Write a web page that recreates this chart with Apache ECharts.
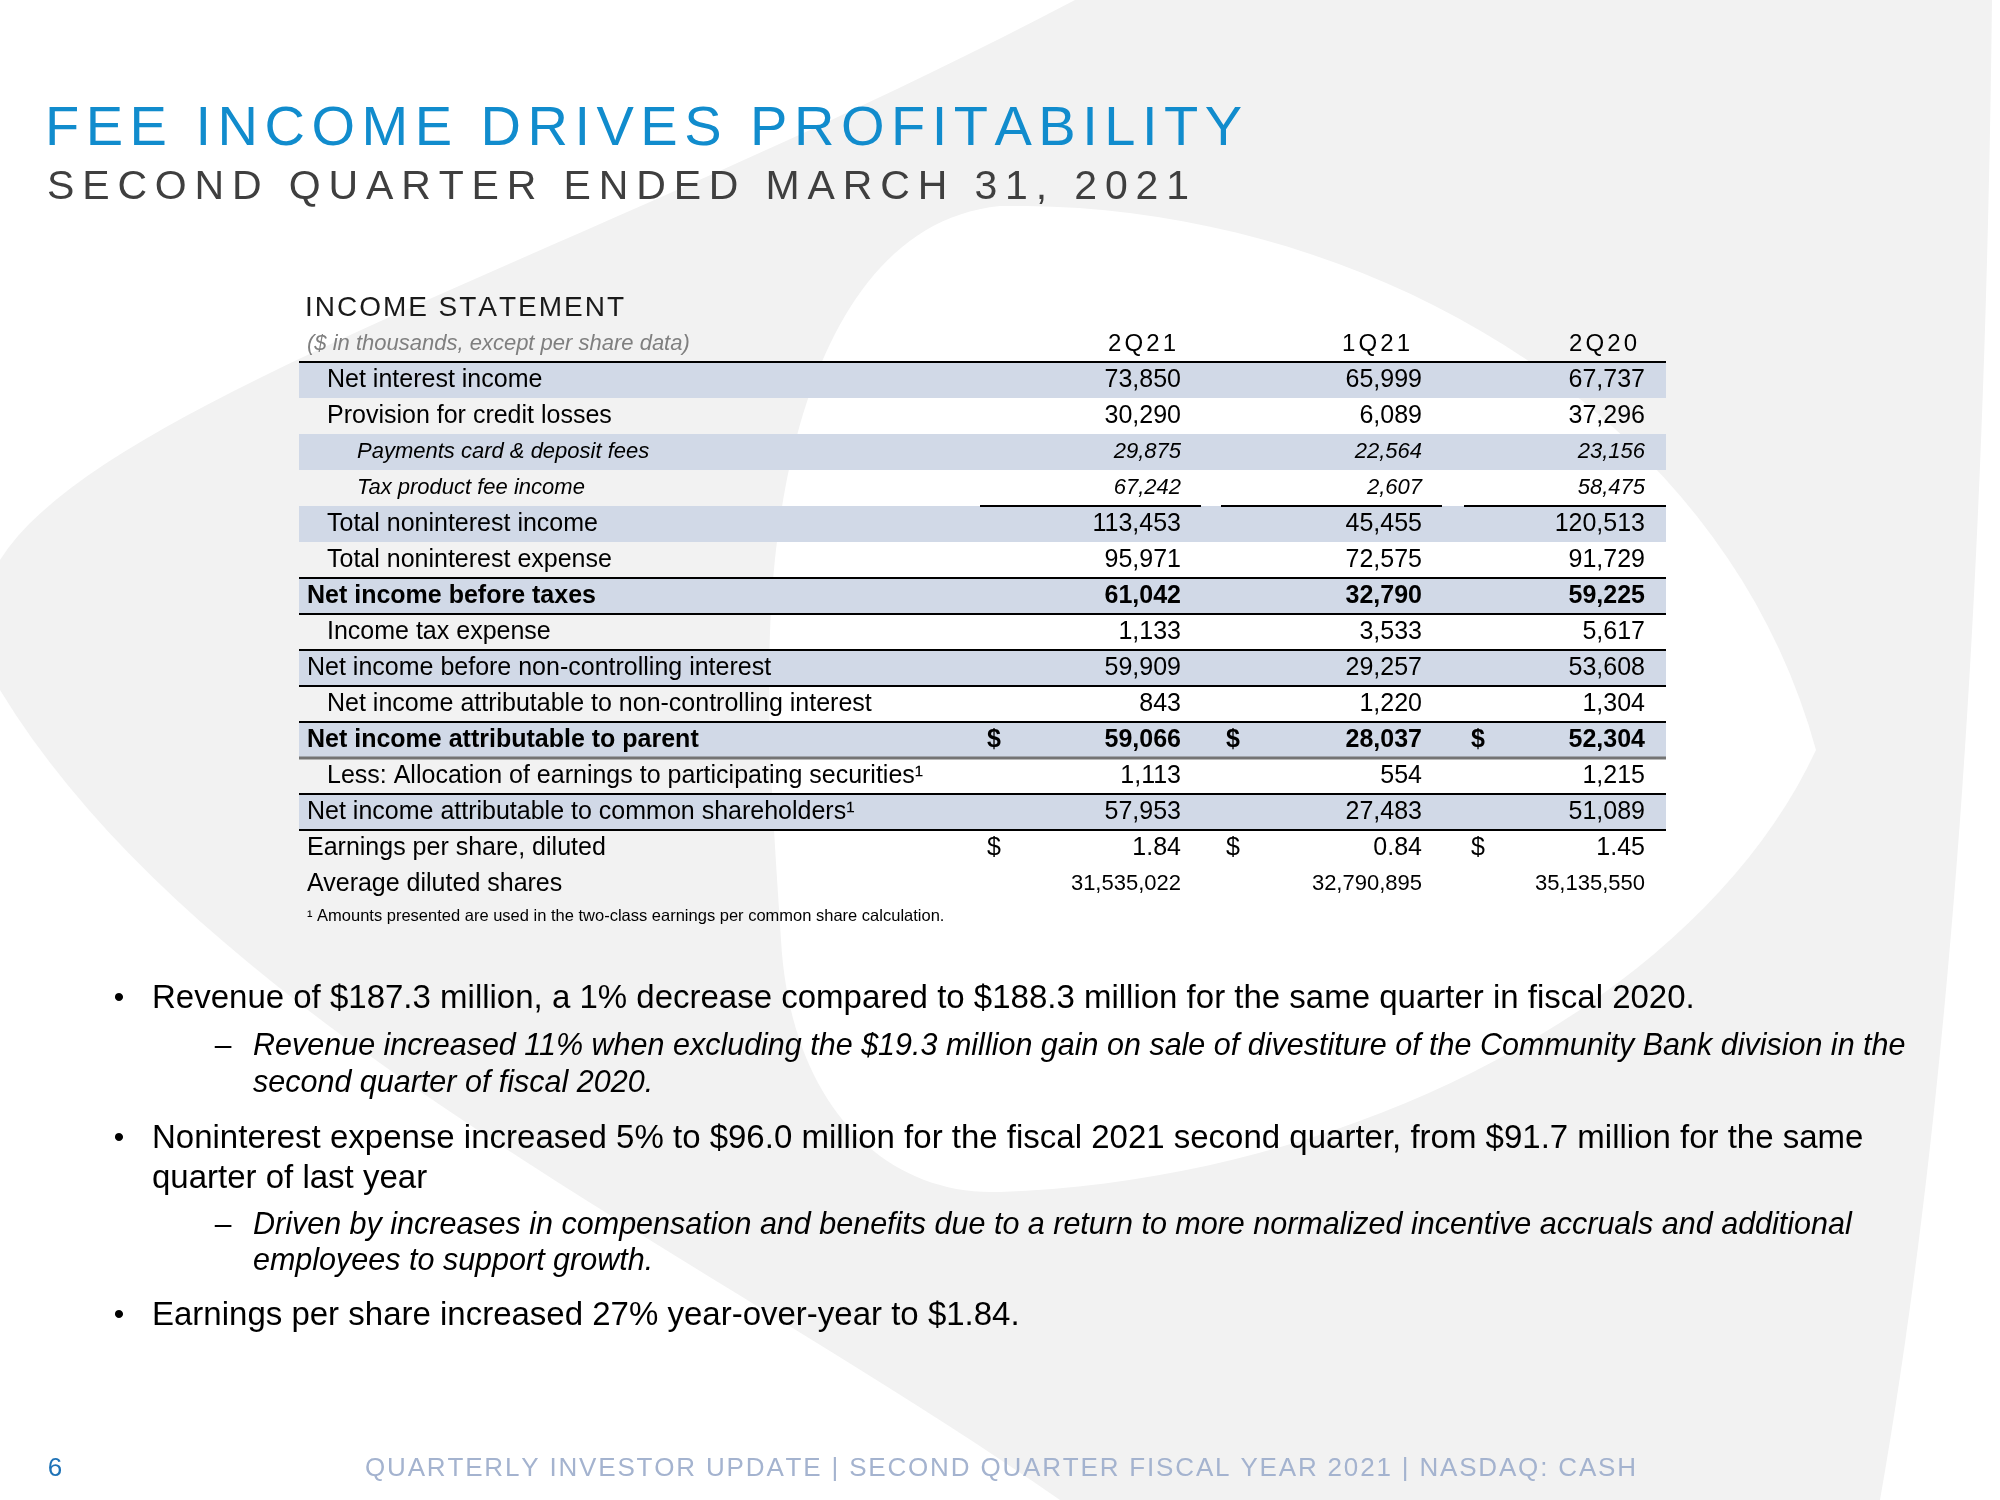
<!DOCTYPE html>
<html><head><meta charset="utf-8">
<script src="https://cdn.jsdelivr.net/npm/echarts@6/dist/echarts.min.js"></script>
<style>html,body{margin:0;padding:0;background:#fff}#c{width:2000px;height:1500px}</style>
</head><body><div id="c"></div>
<script>
// ---------------- DATA ----------------
const colHeaders = ['2Q21', '1Q21', '2Q20'];
const headerNote = '($ in thousands, except per share data)';
const rowLabels = [
  'Net interest income',
  'Provision for credit losses',
  'Payments card & deposit fees',
  'Tax product fee income',
  'Total noninterest income',
  'Total noninterest expense',
  'Net income before taxes',
  'Income tax expense',
  'Net income before non-controlling interest',
  'Net income attributable to non-controlling interest',
  'Net income attributable to parent',
  'Less: Allocation of earnings to participating securities\u00B9',
  'Net income attributable to common shareholders\u00B9',
  'Earnings per share, diluted',
  'Average diluted shares'
];
const values2Q21 = [73850, 30290, 29875, 67242, 113453, 95971, 61042, 1133, 59909, 843, 59066, 1113, 57953, 1.84, 31535022];
const values1Q21 = [65999, 6089, 22564, 2607, 45455, 72575, 32790, 3533, 29257, 1220, 28037, 554, 27483, 0.84, 32790895];
const values2Q20 = [67737, 37296, 23156, 58475, 120513, 91729, 59225, 5617, 53608, 1304, 52304, 1215, 51089, 1.45, 35135550];
const footnote = '\u00B9 Amounts presented are used in the two-class earnings per common share calculation.';
const titleText = 'FEE INCOME DRIVES PROFITABILITY';
const subtitleText = 'SECOND QUARTER ENDED MARCH 31, 2021';
const tableTitle = 'INCOME STATEMENT';
const bulletItems = [
  { level: 1, lines: ['Revenue of $187.3 million, a 1% decrease compared to $188.3 million for the same quarter in fiscal 2020.'] },
  { level: 2, lines: ['Revenue increased 11% when excluding the $19.3 million gain on sale of divestiture of the Community Bank division in the', 'second quarter of fiscal 2020.'] },
  { level: 1, lines: ['Noninterest expense increased 5% to $96.0 million for the fiscal 2021 second quarter, from $91.7 million for the same', 'quarter of last year'] },
  { level: 2, lines: ['Driven by increases in compensation and benefits due to a return to more normalized incentive accruals and additional', 'employees to support growth.'] },
  { level: 1, lines: ['Earnings per share increased 27% year-over-year to $1.84.'] }
];
const pageNumber = '6';
const footerText = 'QUARTERLY INVESTOR UPDATE | SECOND QUARTER FISCAL YEAR 2021 | NASDAQ: CASH';

// ---------------- STYLE (per row) ----------------
const rowIndent = [1, 1, 2, 2, 1, 1, 0, 1, 0, 1, 0, 1, 0, 0, 0];
const rowKind   = ['n','n','i','i','n','n','b','n','n','n','b','n','n','n','s'];
const rowBand   = [1, 0, 1, 0, 1, 0, 1, 0, 1, 0, 1, 0, 1, 0, 0];
const rowDollar = [0, 0, 0, 0, 0, 0, 0, 0, 0, 0, 1, 0, 0, 1, 0];
const rowLines = [
  { row: 0, edge: 'top', kind: 'full' },
  { row: 4, edge: 'top', kind: 'seg' },
  { row: 6, edge: 'top', kind: 'full' }, { row: 6, edge: 'bottom', kind: 'full' },
  { row: 8, edge: 'top', kind: 'full' }, { row: 8, edge: 'bottom', kind: 'full' },
  { row: 10, edge: 'top', kind: 'full' }, { row: 10, edge: 'bottom', kind: 'gray' },
  { row: 12, edge: 'top', kind: 'full' }, { row: 12, edge: 'bottom', kind: 'full' }
];

// ---------------- LAYOUT ----------------
const FONT = '"Liberation Sans", Arial, Helvetica, sans-serif';
const BAND = '#d1d9e7';
const TABLE_W = 1367;
const LABEL_X = [8, 28, 58];
const HEAD_X = [843, 1077, 1304];
const VAL_X = [882, 1123, 1346];
const DOLLAR_X = [695, 934, 1179];
const SEGS = [[681, 902], [922, 1143], [1165, 1367]];

const mctx = document.createElement('canvas').getContext('2d');
function fnt(size, weight, style) { return (style || 'normal') + ' ' + (weight || 'normal') + ' ' + size + 'px ' + FONT; }
function measure(chars, font) { mctx.font = font; return chars.map(c => mctx.measureText(c).width); }
function spacedGraphic(str, font, left, right, y, fill) {
  const chars = [...str];
  const w = measure(chars, font);
  const sum = w.reduce((a, b) => a + b, 0);
  const sp = (right - left - sum) / (chars.length - 1);
  let x = left; const out = [];
  chars.forEach((c, i) => {
    if (c !== ' ') out.push({ type: 'text', x: x, y: y, z: 100, silent: true,
      style: { text: c, font: font, fill: fill, textVerticalAlign: 'middle', verticalAlign: 'middle' } });
    x += w[i] + sp;
  });
  return out;
}
function spacedCustom(str, font, center, width, y, fill) {
  const chars = [...str];
  const w = measure(chars, font);
  const sum = w.reduce((a, b) => a + b, 0);
  const sp = (width - sum) / (chars.length - 1);
  let x = center - width / 2; const out = [];
  chars.forEach((c, i) => {
    out.push({ type: 'text', z2: 5, style: { text: c, x: x, y: y, font: font, fill: fill,
      textAlign: 'left', align: 'left', textVerticalAlign: 'middle', verticalAlign: 'middle' } });
    x += w[i] + sp;
  });
  return out;
}
function cText(text, x, y, font, fill, align) {
  return { type: 'text', z2: 5, style: { text: text, x: x, y: y, font: font, fill: fill,
    textAlign: align, align: align, textVerticalAlign: 'middle', verticalAlign: 'middle' } };
}
function fmt(v, i) { return i === 13 ? v.toFixed(2) : v.toLocaleString('en-US'); }

// sample a simple M/L/C path into polygon points
function pathPoints(d) {
  const tok = d.replace(/,/g, ' ').trim().split(/\s+|(?=[MLCZ])|(?<=[MLCZ])/).filter(s => s.length);
  const pts = []; let i = 0, cmd = '', cur = [0, 0];
  const num = () => parseFloat(tok[i++]);
  while (i < tok.length) {
    if (/^[MLCZ]$/.test(tok[i])) { cmd = tok[i++]; if (cmd === 'Z') continue; }
    if (cmd === 'M' || cmd === 'L') { cur = [num(), num()]; pts.push(cur); }
    else if (cmd === 'C') {
      const p1 = [num(), num()], p2 = [num(), num()], p3 = [num(), num()], p0 = cur;
      for (let s = 1; s <= 40; s++) {
        const t = s / 40, u = 1 - t;
        pts.push([u*u*u*p0[0] + 3*u*u*t*p1[0] + 3*u*t*t*p2[0] + t*t*t*p3[0],
                  u*u*u*p0[1] + 3*u*u*t*p1[1] + 3*u*t*t*p2[1] + t*t*t*p3[1]]);
      }
      cur = p3;
    } else i++;
  }
  return pts;
}

const yCats = ['header'].concat(rowLabels);
const columns = [values2Q21, values1Q21, values2Q20];

function renderItem(params, api) {
  const r = api.value(1);
  const cy = api.coord([0, r])[1];
  const h = api.size([0, 1])[1];
  const X = u => api.coord([u, r])[0];
  const top = cy - h / 2, bot = cy + h / 2;
  const kids = [];
  if (r === 0) {
    kids.push(cText(headerNote, X(LABEL_X[0]), cy, fnt(22, 'normal', 'italic'), '#7f7f7f', 'left'));
    colHeaders.forEach((hd, k) => {
      spacedCustom(hd, fnt(24), X(HEAD_X[k]), 68, cy, '#000').forEach(e => kids.push(e));
    });
    return { type: 'group', children: kids };
  }
  const i = r - 1;
  if (rowBand[i]) {
    kids.push({ type: 'rect', z2: 0, shape: { x: X(0), y: top, width: X(TABLE_W) - X(0), height: h }, style: { fill: BAND } });
  }
  const kind = rowKind[i];
  const labelFont = kind === 'b' ? fnt(25, 'bold') : kind === 'i' ? fnt(22, 'normal', 'italic') : fnt(25);
  const valFont = kind === 'b' ? fnt(25, 'bold') : kind === 'i' ? fnt(22, 'normal', 'italic') : kind === 's' ? fnt(22) : fnt(25);
  kids.push(cText(rowLabels[i], X(LABEL_X[rowIndent[i]]), cy, labelFont, '#000', 'left'));
  columns.forEach((col, k) => {
    kids.push(cText(fmt(col[i], i), X(VAL_X[k]), cy, valFont, '#000', 'right'));
    if (rowDollar[i]) kids.push(cText('$', X(DOLLAR_X[k]), cy, kind === 'b' ? fnt(25, 'bold') : fnt(25), '#000', 'center'));
  });
  rowLines.filter(l => l.row === i).forEach(l => {
    const y = l.edge === 'top' ? top : bot;
    if (l.kind === 'seg') {
      SEGS.forEach(s => kids.push({ type: 'line', z2: 10, shape: { x1: X(s[0]), y1: y, x2: X(s[1]), y2: y }, style: { stroke: '#000', lineWidth: 2 } }));
    } else {
      const gray = l.kind === 'gray';
      kids.push({ type: 'line', z2: 10, shape: { x1: X(0), y1: y, x2: X(TABLE_W), y2: y },
        style: { stroke: gray ? '#747474' : '#000', lineWidth: gray ? 3 : 2 } });
    }
  });
  return { type: 'group', children: kids };
}

// ---------------- SLIDE DECORATION / TEXT ----------------
const graphics = [];
graphics.push({ type: 'polygon', z: -10, silent: true,
  shape: { points: pathPoints('M1075,0 L1992,0 C1985,600 1950,1100 1880,1500 L1060,1500 C700,1250 200,1020 0,690 L0,560 C100,400 600,250 1075,0 Z') },
  style: { fill: '#f2f2f2' } });
graphics.push({ type: 'polygon', z: -9, silent: true,
  shape: { points: pathPoints('M1000,206 C1350,200 1720,400 1816,750 C1700,1000 1350,1180 1000,1192 C880,1196 790,1100 781,940 C772,800 760,650 780,520 C800,380 860,220 1000,206 Z') },
  style: { fill: '#ffffff' } });

spacedGraphic(titleText, fnt(56), 45, 1242, 130, '#118ccd').forEach(e => graphics.push(e));
spacedGraphic(subtitleText, fnt(41), 47, 1189, 188, '#3f3f3f').forEach(e => graphics.push(e));
spacedGraphic(tableTitle, fnt(28), 305, 624, 308, '#1a1a1a').forEach(e => graphics.push(e));

graphics.push({ type: 'text', x: 307, y: 916, z: 100, silent: true,
  style: { text: footnote, font: fnt(16.5), fill: '#000', textVerticalAlign: 'middle', verticalAlign: 'middle' } });

const bulletY = [[999], [1047, 1084], [1139, 1179], [1226, 1262], [1316]];
bulletItems.forEach((b, bi) => {
  const ys = bulletY[bi];
  const isSub = b.level === 2;
  const font = isSub ? fnt(30.5, 'normal', 'italic') : fnt(33);
  graphics.push({ type: 'text', x: isSub ? 223 : 119, y: ys[0], z: 100, silent: true,
    style: { text: isSub ? '\u2013' : '\u2022', font: fnt(30), fill: '#000', textAlign: 'center', align: 'center', textVerticalAlign: 'middle', verticalAlign: 'middle' } });
  b.lines.forEach((ln, li) => {
    graphics.push({ type: 'text', x: isSub ? 253 : 152, y: ys[li], z: 100, silent: true,
      style: { text: ln, font: font, fill: '#000', textVerticalAlign: 'middle', verticalAlign: 'middle' } });
  });
});

graphics.push({ type: 'text', x: 55, y: 1469, z: 100, silent: true,
  style: { text: pageNumber, font: fnt(26), fill: '#1f73b7', textAlign: 'center', align: 'center', textVerticalAlign: 'middle', verticalAlign: 'middle' } });
spacedGraphic(footerText, fnt(26), 365, 1636, 1469, '#a4b3cf').forEach(e => graphics.push(e));

const chart = echarts.init(document.getElementById('c'), null, { renderer: 'canvas', width: 2000, height: 1500 });
chart.setOption({
  backgroundColor: '#ffffff',
  animation: false,
  grid: { left: 299, top: 326, width: TABLE_W, height: 36 * yCats.length },
  xAxis: { type: 'value', min: 0, max: TABLE_W, show: false },
  yAxis: { type: 'category', data: yCats, inverse: true, show: false },
  graphic: { elements: graphics },
  series: [{
    type: 'custom',
    renderItem: renderItem,
    encode: { x: 0, y: 1 },
    data: yCats.map((_, r) => [0, r]),
    silent: true,
    z: 5
  }]
});
</script></body></html>
